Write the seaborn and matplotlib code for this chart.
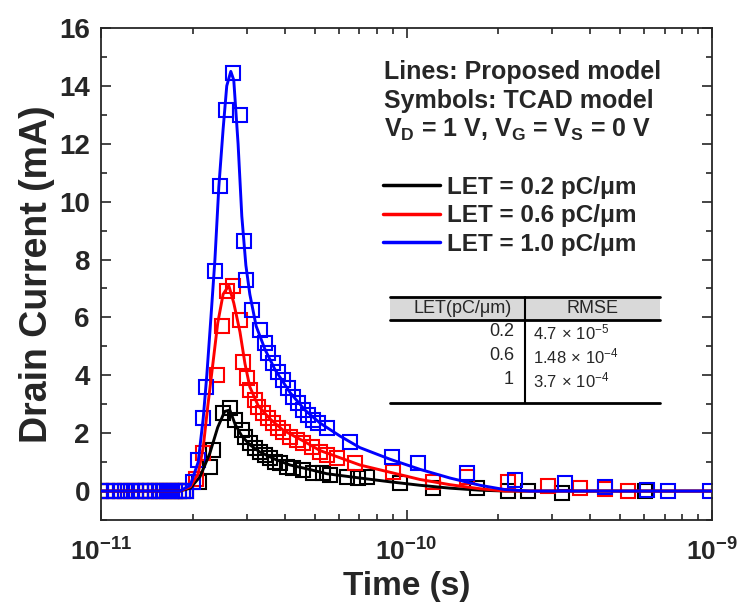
import numpy as np
import pandas as pd
import matplotlib
matplotlib.use("Agg")
import matplotlib.pyplot as plt
import matplotlib.ticker as mticker
from matplotlib.lines import Line2D
from matplotlib.patches import Rectangle
import seaborn as sns

# ---------------- data (time in ps, current in mA) ----------------
flat_t = [10, 10.5, 11, 11.5, 12, 12.5, 13, 13.5, 14, 14.5, 15, 15.5, 16, 16.5, 17, 17.5, 18, 18.5, 19]
flat_i = [0] * len(flat_t)

blue_sq_t = [20.0, 20.8, 21.6, 22.1, 23.6, 24.6, 25.7, 27.0, 28.5, 29.4, 29.8, 31.1, 33.1, 34.4, 35.3, 36.6,
             38.0, 39.5, 41.0, 42.6, 44.2, 45.9, 47.7, 49.5, 51.4, 54.8, 65.3, 89.5, 109.3, 157.4, 226.6,
             330, 446, 611, 718, 985]
blue_sq_i = [0.3, 1.07, 2.53, 3.61, 7.62, 10.53, 13.16, 14.45, 13.0, 8.65, 7.3, 6.26, 5.57, 5.11, 4.76, 4.42,
             4.13, 3.84, 3.55, 3.26, 3.03, 2.80, 2.63, 2.46, 2.34, 2.17, 1.71, 1.19, 0.96, 0.61, 0.38,
             0.27, 0.15, 0.03, 0.0, 0.0]

red_sq_t = [20.4, 21.5, 23.9, 24.9, 25.8, 27.0, 28.5, 29.2, 30.0, 30.7, 31.9, 32.7, 34.0, 35.3, 36.6, 38.0,
            39.5, 41.6, 43.7, 45.9, 49.0, 52.1, 54.8, 59.1, 67.8, 90.5, 122.4, 157.4, 214.9, 290.5, 369.8,
            446, 531]
red_sq_i = [0.4, 1.3, 4.01, 5.69, 6.9, 7.07, 5.92, 4.47, 3.90, 3.49, 3.15, 2.92, 2.69, 2.52, 2.34, 2.17,
            2.05, 1.88, 1.76, 1.65, 1.53, 1.36, 1.25, 1.13, 0.96, 0.67, 0.32, 0.5, 0.32, 0.17, 0.09,
            0.06, 0.0]

black_sq_t = [21.0, 22.7, 23.3, 25.1, 26.4, 27.5, 28.9, 29.6, 30.7, 31.9, 33.1, 34.4, 35.7, 37.1, 38.5, 40.5,
              42.6, 45.9, 49.5, 53.4, 56.2, 63.7, 69.6, 74.1, 95.2, 122.4, 169.8, 214.9, 249.9, 322, 603]
black_sq_i = [0.3, 0.84, 1.42, 2.69, 2.86, 2.46, 2.11, 1.88, 1.65, 1.48, 1.36, 1.25, 1.13, 1.01, 0.96, 0.84,
              0.78, 0.73, 0.61, 0.61, 0.55, 0.50, 0.44, 0.50, 0.27, 0.09, 0.09, 0.0, 0.0, -0.06, 0.0]

blue_ln_t = [10, 18.1, 19.6, 20.8, 21.6, 22.2, 22.9, 23.6, 24.3, 25.1, 25.8, 26.6, 27.2, 28.1, 28.9, 29.8,
             30.7, 32.2, 34.4, 37.1, 41.6, 46.5, 52.1, 60.6, 70.4, 88.3, 110.7, 138.8, 174, 210, 253.7, 1000]
blue_ln_i = [0, 0, 0.2, 1.0, 2.5, 4.0, 6.0, 8.0, 10.5, 12.5, 14.0, 14.5, 14.2, 12.0, 9.5, 7.8,
             6.8, 5.7, 4.9, 4.2, 3.4, 2.8, 2.35, 1.9, 1.5, 1.1, 0.75, 0.45, 0.2, 0.05, 0, 0]

red_ln_t = [10, 18.1, 19.6, 20.8, 21.6, 22.4, 23.3, 24.1, 25.1, 26.2, 27.2, 28.5, 29.6, 30.7, 32.7, 35.7,
            39.5, 46.5, 52.1, 60.6, 70.4, 88.3, 110.7, 138.8, 174, 210, 1000]
red_ln_i = [0, 0, 0.15, 0.6, 1.5, 3.0, 4.5, 5.8, 6.8, 7.1, 6.5, 5.5, 4.4, 3.6, 2.95, 2.5,
            2.1, 1.7, 1.4, 1.15, 0.9, 0.65, 0.4, 0.22, 0.08, 0, 0]

black_ln_t = [10, 18.1, 19.6, 21.1, 22.7, 24.1, 25.4, 26.4, 27.5, 28.9, 30.7, 33.1, 37.1, 41.6, 48.0, 54.8,
              70.4, 88.3, 110.7, 138.8, 174, 210, 1000]
black_ln_i = [0, 0, 0.1, 0.5, 1.3, 2.2, 2.75, 2.8, 2.3, 1.9, 1.6, 1.35, 1.1, 0.9, 0.75, 0.6,
              0.45, 0.32, 0.2, 0.1, 0.03, 0, 0]

labels = ["LET = 0.2 pC/\u03bcm", "LET = 0.6 pC/\u03bcm", "LET = 1.0 pC/\u03bcm"]
colors = ["#000000", "#ff0000", "#0000ff"]

table_let = ["0.2", "0.6", "1"]
table_rmse = [r"$\mathrm{4.7\,\times\,10^{-5}}$", r"$\mathrm{1.48\,\times\,10^{-4}}$",
              r"$\mathrm{3.7\,\times\,10^{-4}}$"]

# ---------------- style ----------------
sns.set_style("ticks")
plt.rcParams["font.family"] = ["Liberation Sans", "DejaVu Sans"]
plt.rcParams["mathtext.fontset"] = "custom"
plt.rcParams["mathtext.rm"] = "Liberation Sans"
plt.rcParams["mathtext.bf"] = "Liberation Sans:bold"
plt.rcParams["mathtext.it"] = "Liberation Sans:italic"

fig = plt.figure(figsize=(7.4, 6.06), dpi=100)
ax = fig.add_axes([101 / 740, 1 - 520 / 606, 611 / 740, 492 / 606])

ps = 1e-12
series = [
    (black_sq_t, black_sq_i, black_ln_t, black_ln_i),
    (red_sq_t, red_sq_i, red_ln_t, red_ln_i),
    (blue_sq_t, blue_sq_i, blue_ln_t, blue_ln_i),
]

for (st, si, lt, li), c in zip(series, colors):
    df_s = pd.DataFrame({"t": np.array(flat_t + st) * ps, "i": flat_i + si})
    sns.lineplot(data=df_s, x="t", y="i", ax=ax, estimator=None, sort=False,
                 linestyle="none", marker="s", markersize=9.5, markerfacecolor="none",
                 markeredgecolor=c, markeredgewidth=1.5, color=c, zorder=2)
for (st, si, lt, li), c, lab in zip(series, colors, labels):
    df_l = pd.DataFrame({"t": np.array(lt) * ps, "i": li})
    sns.lineplot(data=df_l, x="t", y="i", ax=ax, estimator=None, sort=False,
                 color=c, linewidth=2.1, zorder=3)

ax.set_xscale("log")
ax.set_xlim(1e-11, 1e-9)
ax.set_ylim(-1, 16)
ax.set_yticks(np.arange(0, 17, 2))
ax.yaxis.set_minor_locator(mticker.MultipleLocator(1))
ax.set_xticks([1e-11, 1e-10, 1e-9])
ax.xaxis.set_minor_locator(mticker.LogLocator(base=10, subs=np.arange(2, 10)))
ax.xaxis.set_minor_formatter(mticker.NullFormatter())
ax.xaxis.set_major_formatter(mticker.FuncFormatter(
    lambda v, p: r"$\mathbf{10^{%d}}$" % int(round(np.log10(v)))))

ax.tick_params(which="both", direction="in", top=True, right=True, width=1.2)
ax.tick_params(which="major", length=7)
ax.tick_params(axis="y", which="major", labelsize=20, pad=8)
ax.tick_params(axis="x", which="major", labelsize=19, pad=13)
ax.tick_params(which="minor", length=4)
for lab in ax.get_yticklabels():
    lab.set_fontweight("bold")
for sp in ax.spines.values():
    sp.set_linewidth(1.3)

ax.set_xlabel("Time (s)", fontsize=24, fontweight="bold", labelpad=4)
ax.set_ylabel("Drain Current (mA)", fontsize=27, fontweight="bold", labelpad=3)

# ---------------- annotations ----------------
def ax_xy(px, py):
    return (px - 101) / 611, (520 - py) / 492

fs = 18
x0, _ = ax_xy(384, 0)
ax.text(x0, ax_xy(0, 72)[1], "Lines: Proposed model", transform=ax.transAxes,
        fontsize=fs, fontweight="bold", va="center", ha="left")
ax.text(x0, ax_xy(0, 101)[1], "Symbols: TCAD model", transform=ax.transAxes,
        fontsize=fs, fontweight="bold", va="center", ha="left")
ax.text(x0, ax_xy(0, 130)[1], r"$\mathbf{V_D}$ = 1 V, $\mathbf{V_G}$ = $\mathbf{V_S}$ = 0 V",
        transform=ax.transAxes, fontsize=fs, fontweight="bold", va="center", ha="left")

lfs = 17.5
handles = [Line2D([0], [0], color=c, lw=2.5) for c in colors]
ax.legend(handles, labels, loc="upper left", bbox_to_anchor=ax_xy(383, 176),
          frameon=False, prop={"size": lfs, "weight": "bold"}, handlelength=2.35,
          handletextpad=0.3, labelspacing=0.22, borderpad=0, borderaxespad=0)

# table
tx0, ty0 = ax_xy(390, 297)
tx1, ty1 = ax_xy(660, 320)
ax.add_patch(Rectangle((tx0, ty1), tx1 - tx0, ty0 - ty1, transform=ax.transAxes,
                       facecolor="#d9d9d9", edgecolor="none", zorder=1))
ax.plot([tx0, tx1], [ty0, ty0], transform=ax.transAxes, color="black", lw=2.0)
ax.plot([tx0, tx1], [ty1, ty1], transform=ax.transAxes, color="black", lw=2.0)
_, tyb = ax_xy(0, 403)
ax.plot([tx0, tx1], [tyb, tyb], transform=ax.transAxes, color="black", lw=2.0)
vx, _ = ax_xy(525, 0)
ax.plot([vx, vx], [tyb, ty0], transform=ax.transAxes, color="black", lw=1.5)

tfs = 13
ax.text(ax_xy(512, 0)[0], ax_xy(0, 309)[1], "LET(pC/\u03bcm)", transform=ax.transAxes,
        fontsize=tfs, ha="right", va="center")
ax.text(ax_xy(592, 0)[0], ax_xy(0, 309)[1], "RMSE", transform=ax.transAxes,
        fontsize=tfs, ha="center", va="center")
for py, let, rm in zip([332, 356, 380], table_let, table_rmse):
    ax.text(ax_xy(514, 0)[0], ax_xy(0, py)[1], let, transform=ax.transAxes,
            fontsize=tfs, ha="right", va="center")
    ax.text(ax_xy(533, 0)[0], ax_xy(0, py)[1], rm, transform=ax.transAxes,
            fontsize=12, ha="left", va="center")

fig.savefig("out.png", dpi=100)
